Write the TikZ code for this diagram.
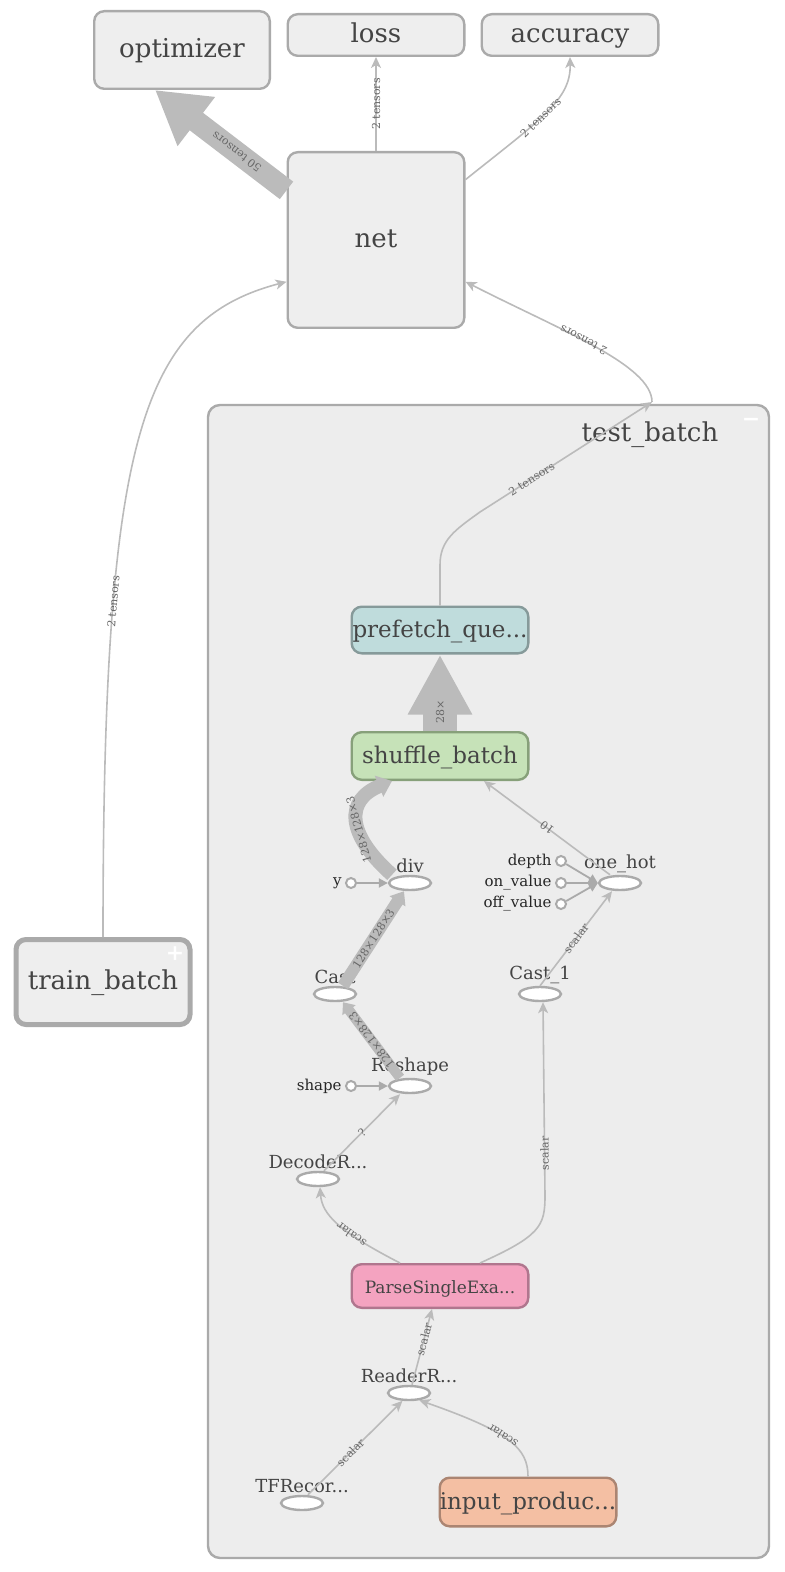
\documentclass[tikz,border=0pt]{standalone}
\usepackage{fontspec}
\setmainfont{DejaVu Serif}
\usepackage{xcolor}
\usepackage{tikz}
\usetikzlibrary{arrows.meta,shapes.geometric}

\definecolor{boxgray}{HTML}{EEEEEE}
\definecolor{grpgray}{HTML}{EDEDED}
\definecolor{linegray}{HTML}{AAAAAA}
\definecolor{edgegray}{HTML}{BBBBBB}
\definecolor{textgray}{HTML}{444444}
\definecolor{labelgray}{HTML}{666666}
\definecolor{prefetchfill}{HTML}{BFDCDC}
\definecolor{prefetchline}{HTML}{869A9A}
\definecolor{shufflefill}{HTML}{C6E2B8}
\definecolor{shuffleline}{HTML}{87A07A}
\definecolor{parsefill}{HTML}{F4A3C0}
\definecolor{parseline}{HTML}{B0768E}
\definecolor{inputfill}{HTML}{F4BFA3}
\definecolor{inputline}{HTML}{AB8572}

\tikzset{
  metanode/.style={draw=linegray, fill=boxgray, line width=1.2pt, rounded corners=5pt,
    text=textgray, font=\fontsize{13}{15}\selectfont, inner sep=0pt, minimum width=88.3pt,
    text height=0.95em, text depth=0.2em},
  opnode/.style={ellipse, draw=linegray, fill=white, line width=1.2pt,
    minimum width=21pt, minimum height=7pt, inner sep=0pt, label distance=2pt},
  oplabel/.style={text=textgray, font=\fontsize{9}{10}\selectfont, inner sep=1pt},
  constnode/.style={circle, draw=linegray, fill=white, line width=1pt, minimum size=5pt, inner sep=0pt},
  constlabel/.style={text=black!85, font=\fontsize{7.5}{8}\selectfont, inner sep=1.5pt},
  dataflow/.style={draw=edgegray, line width=0.8pt, -{Stealth[length=5.5pt,width=5pt,inset=1.5pt]}},
  constflow/.style={draw=linegray, line width=0.9pt, -{Triangle[length=4.5pt,width=4.5pt]}},
  elabel/.style={font=\fontsize{5.5}{6}\selectfont, text=labelgray, sloped, allow upside down, inner sep=0pt},
  signmark/.style={text=white, font=\bfseries\fontsize{11}{12}\selectfont, inner sep=0pt},
}

\begin{document}
\begin{tikzpicture}[x=0.5pt,y=-0.5pt]
\useasboundingbox (0,0) rectangle (784,1572);

%%    GROUP    %%
\draw[draw=linegray, fill=grpgray, line width=1.2pt, rounded corners=6pt] (208,405) rectangle (769,1558);
\node[text=textgray, font=\fontsize{13}{15}\selectfont] (testbatch) at (650,435) {test\_batch};
\node[signmark] (collapse) at (751,422) {−};
\coordinate (tbin) at (652,402);

%%    NODES   %%
\node[metanode, minimum width=87.8pt, minimum height=38.8pt] (optimizer) at (182,50) {optimizer};
\node[metanode, minimum height=20.8pt] (loss) at (376,35) {loss};
\node[metanode, minimum height=20.8pt] (accuracy) at (570,35) {accuracy};
\node[metanode, minimum height=87.8pt] (net) at (376,240) {net};
\node[metanode, line width=2.5pt, minimum width=87pt, minimum height=42.5pt] (trainbatch) at (103,982) {train\_batch};
\node[signmark] (expand) at (175,954) {+};

\node[metanode, fill=prefetchfill, draw=prefetchline, minimum height=23.3pt,
  font=\fontsize{11.5}{13}\selectfont] (prefetch) at (440,630) {prefetch\_que...};
\node[metanode, fill=shufflefill, draw=shuffleline, minimum height=23.8pt,
  font=\fontsize{11.5}{13}\selectfont] (shuffle) at (440,756) {shuffle\_batch};
\node[metanode, fill=parsefill, draw=parseline, minimum height=21.8pt,
  font=\fontsize{8.5}{10}\selectfont] (parse) at (440,1286) {ParseSingleExa...};
\node[metanode, fill=inputfill, draw=inputline, minimum height=24.3pt,
  font=\fontsize{11.5}{13}\selectfont] (input) at (528,1502) {input\_produc...};

\node[opnode, label={[oplabel]above:div}] (div) at (410,883) {};
\node[opnode, label={[oplabel]above:one\_hot}] (onehot) at (620,883) {};
\node[opnode, label={[oplabel]above:Cast}] (cast) at (335,994) {};
\node[opnode, label={[oplabel]above:Cast\_1}] (castone) at (540,994) {};
\node[opnode, label={[oplabel]above:Reshape}] (reshape) at (410,1086) {};
\node[opnode, label={[oplabel]above:DecodeR...}] (decode) at (318,1179) {};
\node[opnode, label={[oplabel]above:ReaderR...}] (reader) at (409,1393) {};
\node[opnode, label={[oplabel]above:TFRecor...}] (tfrecord) at (302,1503) {};

\node[constnode, label={[constlabel]left:y}] (ycon) at (351,883) {};
\node[constnode, label={[constlabel]left:depth}] (depth) at (561,861) {};
\node[constnode, label={[constlabel]left:on\_value}] (onvalue) at (561,883) {};
\node[constnode, label={[constlabel]left:off\_value}] (offvalue) at (561,904) {};
\node[constnode, label={[constlabel]left:shape}] (shape) at (351,1086) {};

%%    ARROWS    %%
\draw[draw=edgegray, line width=11pt, -{Triangle[length=26pt,width=29pt]}]
  (net.151) -- node[elabel, pos=0.38] {50 tensors} (optimizer.236);
\draw[dataflow] (net.north) -- node[elabel] {2 tensors} (loss.south);
\draw[dataflow] (net.34) .. controls (540,120) and (571,100) .. node[elabel, pos=0.45] {2 tensors} (accuracy.south);
\draw[dataflow] (trainbatch.north) .. controls (103,440) and (140,320) .. node[elabel, pos=0.28] {2 tensors} (net.205);
\draw[dataflow] (tbin) .. controls (652,365) and (560,330) .. node[elabel, pos=0.55] {2 tensors} (net.335);
\draw[dataflow] (prefetch.north) -- (440,565) .. controls (440,540) and (455,530) .. (480,512)
  -- node[elabel, pos=0.3] {2 tensors} (tbin);

\draw[draw=edgegray, line width=17pt, -{Triangle[length=30pt,width=30pt]}]
  (shuffle.north) -- node[elabel, pos=0.25] {28×} (prefetch.south);
\draw[draw=edgegray, line width=7pt, -{Triangle[length=7pt,width=11pt]}]
  ([xshift=-9pt]div.north) .. controls (346,834) and (345,800) .. node[elabel, pos=0.4] {128×128×3} ([xshift=-24pt]shuffle.south);
\draw[dataflow] ([xshift=-5pt]onehot.north) -- node[elabel] {10} ([xshift=22pt]shuffle.south);
\draw[draw=edgegray, line width=6pt, -{Triangle[length=6pt,width=9pt]}]
  ([xshift=4pt]cast.north) -- node[elabel] {128×128×3} ([xshift=-3pt]div.south);
\draw[draw=edgegray, line width=5pt, -{Triangle[length=5pt,width=8pt]}]
  ([xshift=-5pt]reshape.north) -- node[elabel] {128×128×3} ([xshift=4pt]cast.south);
\draw[dataflow] ([xshift=3pt]decode.north) -- node[elabel] {?} ([xshift=-5pt]reshape.south);
\draw[dataflow] ([xshift=-20pt]parse.north) .. controls (340,1232) and (322,1215) .. node[elabel, pos=0.35] {scalar} ([xshift=1pt]decode.south);
\draw[dataflow] ([xshift=20pt]parse.north) .. controls (540,1236) and (545,1226) .. (545,1196)
  -- node[elabel, pos=0.22] {scalar} ([xshift=1.5pt]castone.south);
\draw[dataflow] (castone.north) -- node[elabel] {scalar} ([xshift=-4pt]onehot.south);
\draw[dataflow] ([xshift=1.5pt]reader.north) -- node[elabel, pos=0.6] {scalar} ([xshift=-4pt]parse.south);
\draw[dataflow] ([xshift=3pt]tfrecord.north) -- node[elabel, pos=0.45] {scalar} (reader.-130);
\draw[dataflow] (input.north) .. controls (528,1448) and (510,1432) .. node[elabel, pos=0.55] {scalar} (reader.-35);

\draw[constflow] (ycon) -- (div.west);
\draw[constflow] (depth) -- (onehot.west);
\draw[constflow] (onvalue) -- (onehot.west);
\draw[constflow] (offvalue) -- (onehot.west);
\draw[constflow] (shape) -- (reshape.west);

\end{tikzpicture}
\end{document}
